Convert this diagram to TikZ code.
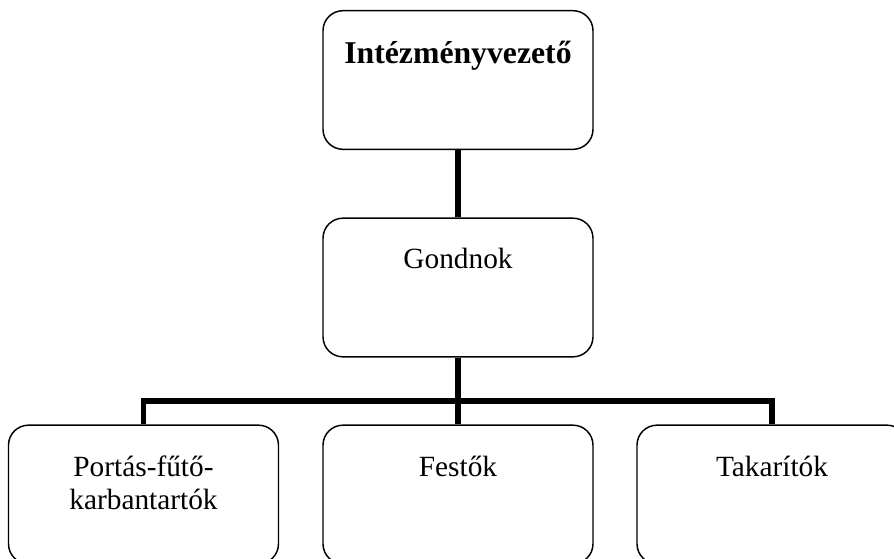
\documentclass[tikz,border=0pt]{standalone}
\usepackage{fontspec}
\setmainfont{Liberation Serif}
\usepackage{tikz}
\usetikzlibrary{calc,positioning}
\tikzstyle{unit}=[draw,rounded corners=15pt,line width=1.1pt,minimum width=202.5pt,minimum height=104pt,inner sep=0pt]
\tikzstyle{unittext}=[anchor=base,align=center,inner sep=0pt,font=\fontsize{22pt}{24.75pt}\selectfont]
\tikzstyle{headtext}=[unittext,font=\fontsize{23.8pt}{26pt}\selectfont\bfseries]
\tikzstyle{link}=[line width=3.8pt]

\begin{document}
\begin{tikzpicture}[x=0.75pt,y=-0.75pt]
\useasboundingbox (0,0) rectangle (894,558);
\clip (0,0) rectangle (894,558);
\draw (458, 80) node [unit] (vezeto) {};
\draw (458, 287.5) node [unit] (gondnok) {};
\draw (143.5, 494.5) node [unit] (portas) {};
\draw (458, 494.5) node [unit] (festok) {};
\draw (772, 494.5) node [unit] (takaritok) {};
\coordinate (bar) at (458, 401);
\node [headtext] (vezetotext) at ($(vezeto.north)+(0,54)$) {Intézményvezető};
\node [unittext] (gondnoktext) at ($(gondnok.north)+(0,51)$) {Gondnok};
% base of a two-line node sits on its last line
\node [unittext] (portastext) at ($(portas.north)+(0,85)$) {Portás-fűtő-\\karbantartók};
\node [unittext] (festoktext) at ($(festok.north)+(0,52)$) {Festők};
\node [unittext] (takaritoktext) at ($(takaritok.north)+(0,52)$) {Takarítók};
\draw [link] (vezeto.south) -- (gondnok.north);
\draw [link] (gondnok.south) -- (festok.north);
\draw [link] (portas.north) -- (portas.north |- bar) -- (takaritok.north |- bar) -- (takaritok.north);
\end{tikzpicture}
\end{document}
